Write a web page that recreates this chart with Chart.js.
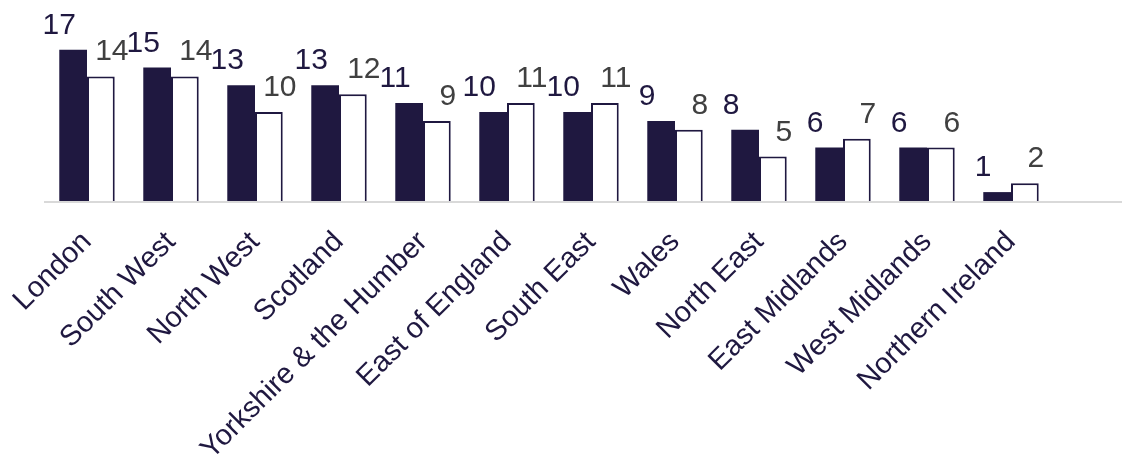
<!DOCTYPE html>
<html>
<head>
<meta charset="utf-8">
<script src="https://cdn.jsdelivr.net/npm/chart.js@4.4.0/dist/chart.umd.min.js"></script>
<style>
  body { margin: 0; background: #fff; }
  #wrap { width: 1122px; height: 455px; }
</style>
</head>
<body>
<div id="wrap"><canvas id="graficoRegioes"></canvas></div>
<script>
const regioes = [
  "London", "South West", "North West", "Scotland", "Yorkshire & the Humber",
  "East of England", "South East", "Wales", "North East", "East Midlands",
  "West Midlands", "Northern Ireland"
];
const valoresEscuro = [17, 15, 13, 13, 11, 10, 10, 9, 8, 6, 6, 1];
const valoresBranco = [14, 14, 10, 12, 9, 11, 11, 8, 5, 7, 6, 2];

const corEscura = "#1f1840";
const corRotuloBranco = "#404040";
const fonte = "'Liberation Sans', Arial, sans-serif";

// linha de base cinza, ate a borda direita do canvas
const linhaBase = {
  id: "linhaBase",
  beforeDatasetsDraw(chart) {
    const ctx = chart.ctx;
    const y = chart.scales.y.getPixelForValue(0);
    ctx.save();
    ctx.strokeStyle = "#d9d9d9";
    ctx.lineWidth = 2;
    ctx.beginPath();
    ctx.moveTo(chart.chartArea.left - 1, y + 1);
    ctx.lineTo(chart.width, y + 1);
    ctx.stroke();
    ctx.restore();
  },
};

// rotulos de valor acima de cada barra
const rotulosValor = {
  id: "rotulosValor",
  afterDatasetsDraw(chart) {
    const ctx = chart.ctx;
    ctx.save();
    ctx.font = "30px " + fonte;
    ctx.textAlign = "center";
    ctx.textBaseline = "alphabetic";
    chart.data.datasets.forEach((ds, i) => {
      const meta = chart.getDatasetMeta(i);
      ctx.fillStyle = i == 0 ? corEscura : corRotuloBranco;
      const desloc = i == 0 ? -14 : 11;
      meta.data.forEach((barra, j) => {
        ctx.fillText(String(ds.data[j]), barra.x + desloc, barra.y - 16);
      });
    });
    ctx.restore();
  },
};

const dados = {
  labels: regioes,
  datasets: [
    {
      label: "Serie 1",
      data: valoresEscuro,
      backgroundColor: corEscura,
      borderWidth: 0,
      categoryPercentage: 0.66,
      barPercentage: 1.0,
    },
    {
      label: "Serie 2",
      data: valoresBranco,
      backgroundColor: "#ffffff",
      borderColor: corEscura,
      borderWidth: 2,
      categoryPercentage: 0.66,
      barPercentage: 1.0,
    },
  ],
};

const config = {
  type: "bar",
  data: dados,
  options: {
    animation: false,
    responsive: true,
    maintainAspectRatio: false,
    layout: { padding: { left: 45, right: 69, top: 23, bottom: 0 } },
    plugins: {
      legend: { display: false },
      tooltip: { enabled: false },
    },
    scales: {
      x: {
        grid: { display: false, drawTicks: false },
        border: { display: false },
        ticks: {
          color: corEscura,
          font: { family: fonte, size: 29 },
          minRotation: 45,
          maxRotation: 45,
          padding: 24,
          labelOffset: 0,
          autoSkip: false,
        },
        afterFit(escala) {
          escala.height = 254;
          escala.paddingLeft = 0;
          escala.paddingRight = 0;
        },
      },
      y: {
        display: false,
        min: 0,
        max: 20,
      },
    },
  },
  plugins: [linhaBase, rotulosValor],
};

new Chart(document.getElementById("graficoRegioes"), config);
</script>
</body>
</html>
